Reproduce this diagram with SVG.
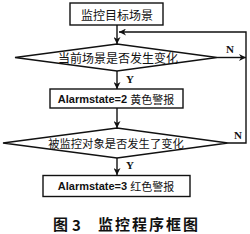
<svg xmlns="http://www.w3.org/2000/svg" width="250" height="234" viewBox="0 0 250 234">
<defs>
<marker id="ah" viewBox="0 0 10 10" refX="10" refY="5" markerWidth="7" markerHeight="7" orient="auto" markerUnits="userSpaceOnUse">
<path d="M0,0 L10,5 L0,10 L3,5 Z" fill="#111"/>
</marker>
<style>
.box{fill:#fff;stroke:#111;stroke-width:1.4}
.ln{fill:none;stroke:#111;stroke-width:1.4}
.cn{font-family:"Noto Sans CJK SC","Liberation Serif",serif;font-size:12px;fill:#111;text-anchor:middle;dominant-baseline:central}
.en{font-family:"Liberation Sans","Noto Sans CJK SC",sans-serif;font-size:11px;font-weight:bold;fill:#111}
.lb{font-family:"Liberation Serif",serif;font-size:11px;font-weight:bold;fill:#111;text-anchor:middle;dominant-baseline:central}
.cap{font-family:"Noto Sans CJK SC",serif;font-size:15px;font-weight:bold;fill:#111;dominant-baseline:central}
</style>
</defs>
<rect width="250" height="234" fill="#fff"/>
<g id="connectors">
<path class="ln" d="M117,25 V44" marker-end="url(#ah)"/>
<path class="ln" d="M117,71 V89" marker-end="url(#ah)"/>
<path class="ln" d="M117,108 V128" marker-end="url(#ah)"/>
<path class="ln" d="M117,158 V175" marker-end="url(#ah)"/>
<path class="ln" d="M217,57.5 H246" marker-end="url(#ah)"/>
<path class="ln" d="M228,143 H246 V32 H119" marker-end="url(#ah)"/>
<text class="lb" x="230" y="49">N</text>
<text class="lb" x="238" y="135">N</text>
<text class="lb" x="130" y="79">Y</text>
<text class="lb" x="130" y="165">Y</text>
</g>
<g id="start">
<rect class="box" x="70" y="3" width="93" height="22"/>
<text class="cn" x="117" y="14">监控目标场景</text>
</g>
<g id="decision1">
<polygon class="box" points="15,57.5 117,44 217,57.5 117,71"/>
<text class="cn" x="118" y="57.5">当前场景是否发生变化</text>
</g>
<g id="alarm2">
<rect class="box" x="50" y="89" width="133" height="19"/>
<text x="116" y="98.5" text-anchor="middle" dominant-baseline="central"><tspan class="en">Alarmstate=2 </tspan><tspan class="cn" style="font-size:11px">黄色警报</tspan></text>
</g>
<g id="decision2">
<polygon class="box" points="3,143 117,128 228,143 117,158"/>
<text class="cn" x="116" y="143" style="font-size:11.3px">被监控对象是否发生了变化</text>
</g>
<g id="alarm3">
<rect class="box" x="43" y="175.5" width="147" height="21"/>
<text x="116" y="186" text-anchor="middle" dominant-baseline="central"><tspan class="en">Alarmstate=3 </tspan><tspan class="cn" style="font-size:11px">红色警报</tspan></text>
</g>
<g id="caption">
<text class="cap" x="53" y="223.5">图<tspan x="72">3</tspan></text>
<text class="cap" x="98" y="223.5" style="letter-spacing:2px">监控程序框图</text>
</g>
</svg>
